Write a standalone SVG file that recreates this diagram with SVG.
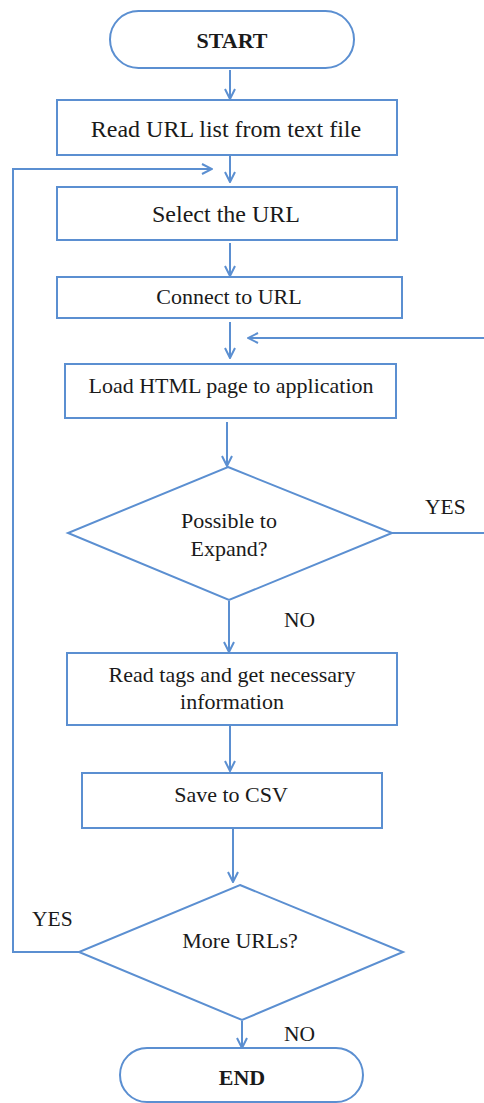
<svg xmlns="http://www.w3.org/2000/svg" width="484" height="1103" viewBox="0 0 484 1103">
<style>
.s{fill:#fff;stroke:#5b8fd1;stroke-width:2}
.c{fill:none;stroke:#5b8fd1;stroke-width:2}
.t{font-family:"Liberation Serif","Times New Roman",serif;font-size:22px;fill:#1a1a1a;text-anchor:middle}
.g{font-size:24px}
.b{font-weight:bold}
.l{font-family:"Liberation Serif","Times New Roman",serif;font-size:21.5px;fill:#1a1a1a}
</style>
<defs>
<marker id="a" viewBox="0 0 12 12" refX="11" refY="6" markerWidth="12" markerHeight="12" markerUnits="userSpaceOnUse" orient="auto">
<path d="M1,1 L11,6 L1,11" fill="none" stroke="#5b8fd1" stroke-width="2"/>
</marker>
</defs>
<g id="connectors">
<line class="c" x1="230" y1="70" x2="230" y2="99" marker-end="url(#a)"/>
<line class="c" x1="230" y1="156" x2="230" y2="182" marker-end="url(#a)"/>
<polyline class="c" points="79,952 13,952 13,169 212,169" marker-end="url(#a)"/>
<line class="c" x1="230" y1="243" x2="230" y2="276" marker-end="url(#a)"/>
<line class="c" x1="230" y1="322" x2="230" y2="358" marker-end="url(#a)"/>
<polyline class="c" points="392,533 487,533 487,338 248,338" marker-end="url(#a)"/>
<line class="c" x1="227" y1="422" x2="227" y2="466" marker-end="url(#a)"/>
<line class="c" x1="229" y1="601" x2="229" y2="652" marker-end="url(#a)"/>
<line class="c" x1="230" y1="726" x2="230" y2="771" marker-end="url(#a)"/>
<line class="c" x1="233" y1="829" x2="233" y2="882" marker-end="url(#a)"/>
<line class="c" x1="242" y1="1021" x2="242" y2="1048" marker-end="url(#a)"/>
<text class="l" x="425" y="514">YES</text>
<text class="l" x="284" y="627">NO</text>
<text class="l" x="32" y="926">YES</text>
<text class="l" x="284" y="1041">NO</text>
</g>
<g id="start">
<rect class="s" x="110" y="11" width="244" height="57" rx="28.5"/>
<text class="t b" x="232" y="48">START</text>
</g>
<g id="readList">
<rect class="s" x="57" y="100" width="340" height="55"/>
<text class="t g" x="226" y="137">Read URL list from text file</text>
</g>
<g id="selectUrl">
<rect class="s" x="57" y="187" width="340" height="53"/>
<text class="t g" x="226" y="222">Select the URL</text>
</g>
<g id="connect">
<rect class="s" x="57" y="277" width="345" height="41"/>
<text class="t" x="229" y="304">Connect to URL</text>
</g>
<g id="loadHtml">
<rect class="s" x="65" y="364" width="331" height="54"/>
<text class="t" x="231" y="393">Load HTML page to application</text>
</g>
<g id="expand">
<polygon class="s" points="228,467 392,533 229,600 68,533"/>
<text class="t" x="229" y="528">Possible to</text>
<text class="t" x="229" y="556">Expand?</text>
</g>
<g id="readTags">
<rect class="s" x="67" y="653" width="330" height="72"/>
<text class="t" x="232" y="682">Read tags and get necessary</text>
<text class="t" x="232" y="709">information</text>
</g>
<g id="saveCsv">
<rect class="s" x="82" y="773" width="300" height="55"/>
<text class="t" x="231" y="802">Save to CSV</text>
</g>
<g id="moreUrls">
<polygon class="s" points="240,885 403,952 242,1020 79,952"/>
<text class="t" x="240" y="948">More URLs?</text>
</g>
<g id="end">
<rect class="s" x="120" y="1048" width="243" height="54" rx="27"/>
<text class="t b" x="242" y="1085">END</text>
</g>
</svg>
